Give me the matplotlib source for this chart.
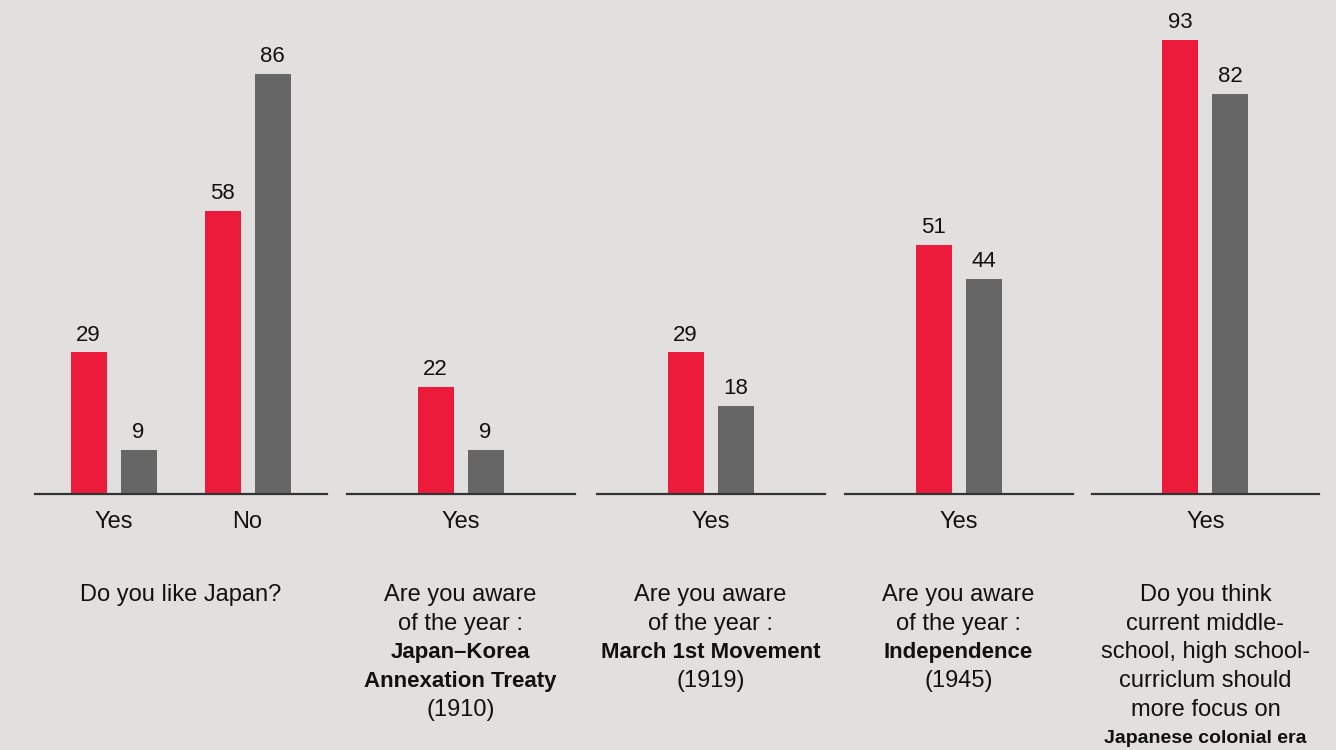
import matplotlib.pyplot as plt

# ==========================================
# data
# ==========================================
panel_groups = [["Yes", "No"], ["Yes"], ["Yes"], ["Yes"], ["Yes"]]
red_values = [[29, 58], [22], [29], [51], [93]]
grey_values = [[9, 86], [9], [18], [44], [82]]

questions = [
    [("Do you like Japan?", "normal")],
    [("Are you aware", "normal"), ("of the year :", "normal"),
     ("Japan\u2013Korea", "bold"), ("Annexation Treaty", "bold"), ("(1910)", "normal")],
    [("Are you aware", "normal"), ("of the year :", "normal"),
     ("March 1st Movement", "bold"), ("(1919)", "normal")],
    [("Are you aware", "normal"), ("of the year :", "normal"),
     ("Independence", "bold"), ("(1945)", "normal")],
    [("Do you think", "normal"), ("current middle-", "normal"),
     ("school, high school-", "normal"), ("curriclum should", "normal"),
     ("more focus on", "normal"), ("Japanese colonial era", "bold_small")],
]

BG = "#e1e0de"
RED = "#ec1b3b"
GREY = "#666666"
TXT = "#111111"

plt.rcParams['font.family'] = ['Liberation Sans', 'DejaVu Sans']

W, H = 1336, 750
fig = plt.figure(figsize=(W / 100, H / 100), dpi=100)
fig.patch.set_facecolor(BG)

# panel placement in pixels (left, width)
panels_px = [(34.5, 292), (346.5, 228), (596.5, 228), (844.5, 228), (1091.5, 228)]
base_px = 494
px_per_unit = 4.88
group_px = 134.0
bar_w = 36 / group_px
offset = 25 / group_px

for i, (left, width) in enumerate(panels_px):
    ax = fig.add_axes([left / W, 1 - base_px / H, width / W, base_px / H])
    ax.set_facecolor("none")
    groups = panel_groups[i]
    n = len(groups)
    xs = list(range(n))
    half = width / group_px / 2
    mid = (n - 1) / 2
    ax.set_xlim(mid - half, mid + half)
    ax.set_ylim(0, base_px / px_per_unit)

    rb = ax.bar([x - offset for x in xs], red_values[i], width=bar_w, color=RED)
    gb = ax.bar([x + offset for x in xs], grey_values[i], width=bar_w, color=GREY)
    for bars, vals in ((rb, red_values[i]), (gb, grey_values[i])):
        for b, v in zip(bars, vals):
            ax.annotate(str(v), (b.get_x() + b.get_width() / 2, v),
                        xytext=(0, 5), textcoords="offset points",
                        ha="center", va="bottom", fontsize=16, color=TXT)

    for s in ["top", "left", "right"]:
        ax.spines[s].set_visible(False)
    ax.spines["bottom"].set_color("#333333")
    ax.spines["bottom"].set_linewidth(1.6)
    ax.set_yticks([])
    ax.set_xticks(xs)
    ax.set_xticklabels(groups, fontsize=17, color=TXT)
    ax.tick_params(axis="x", length=0, pad=12)

    # question text, one line at a time
    cx = (left + width / 2) / W
    for j, (line, style) in enumerate(questions[i]):
        y = 1 - (595 + j * 28.7) / H
        if style == "bold_small":
            fs, wt = 14, "bold"
        elif style == "bold":
            fs, wt = 16, "bold"
        else:
            fs, wt = 17, "normal"
        fig.text(cx, y, line, ha="center", va="center", fontsize=fs,
                 fontweight=wt, color=TXT)

fig.savefig("out.png", dpi=100, facecolor=BG)
